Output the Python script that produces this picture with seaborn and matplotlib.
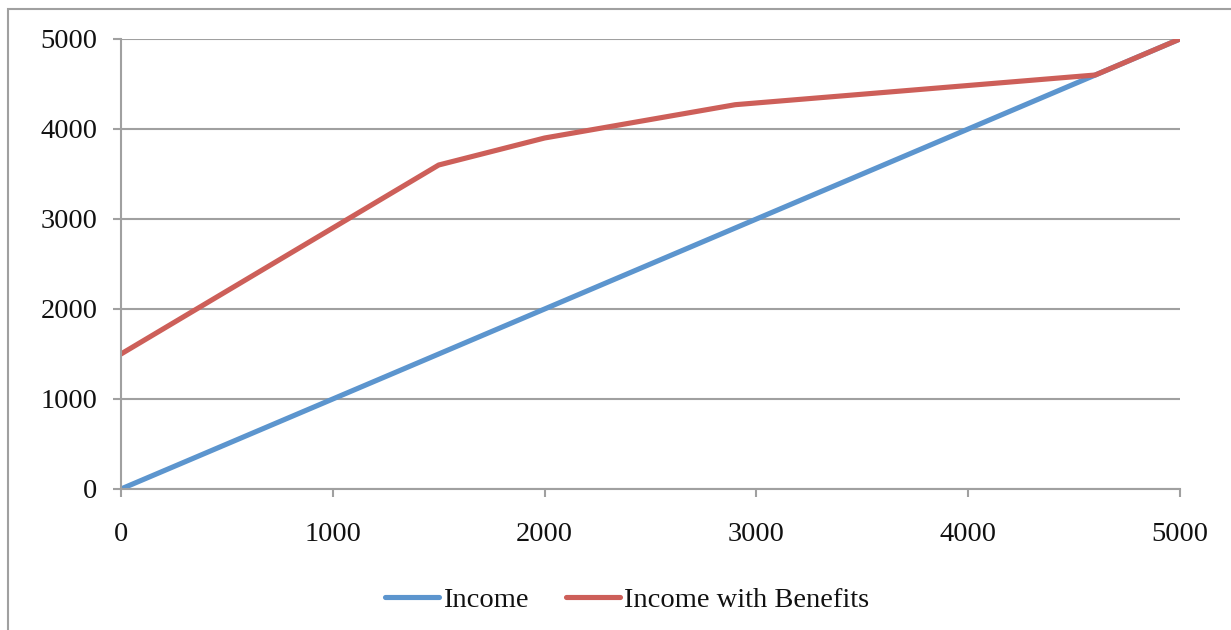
import matplotlib
matplotlib.use("Agg")
import matplotlib.pyplot as plt
from matplotlib.patches import Rectangle
import seaborn as sns
import pandas as pd

# Series data
income_x = [0, 5000]
income_y = [0, 5000]
benefits_x = [0, 1500, 2000, 2900, 4600, 5000]
benefits_y = [1500, 3600, 3900, 4270, 4600, 5000]
series_names = ["Income", "Income with Benefits"]
ticks = [0, 1000, 2000, 3000, 4000, 5000]

df = pd.concat([
    pd.DataFrame({"x": income_x, "y": income_y, "series": series_names[0]}),
    pd.DataFrame({"x": benefits_x, "y": benefits_y, "series": series_names[1]}),
], ignore_index=True)

sns.set_theme(style="white")
plt.rcParams["font.family"] = ["Liberation Serif", "DejaVu Serif"]

grey = "#A0A0A0"
fs = 20.5
fig = plt.figure(figsize=(12.31, 6.30), dpi=100)
ax = fig.add_axes([121 / 1231, 1 - 489 / 630, (1180 - 121) / 1231, (489 - 39) / 630])

sns.lineplot(data=df, x="x", y="y", hue="series", sort=False,
             palette=["#5C95CE", "#CD5F59"], linewidth=3.7, ax=ax,
             legend=True)

ax.set_xlim(0, 5000)
ax.set_ylim(0, 5000)
ax.set_xticks(ticks)
ax.set_yticks(ticks)
ax.set_xticklabels([str(t) for t in ticks])
ax.set_yticklabels([str(t) for t in ticks])
ax.set_xlabel("")
ax.set_ylabel("")

ax.grid(axis="y", color=grey, linewidth=1.5)
ax.grid(axis="x", visible=False)
ax.set_axisbelow(True)
for s in ["top", "right"]:
    ax.spines[s].set_visible(False)
for s in ["left", "bottom"]:
    ax.spines[s].set_color(grey)
    ax.spines[s].set_linewidth(1.5)

ax.tick_params(axis="y", direction="out", length=6, width=1.5, color=grey,
               labelsize=fs, pad=11, left=True, labelcolor="#111111")
ax.tick_params(axis="x", direction="out", length=5.5, width=1.5, color=grey,
               labelsize=fs, pad=18, bottom=True, labelcolor="#111111")

handles, labels = ax.get_legend_handles_labels()
ax.get_legend().remove()
leg = fig.legend(handles, labels, loc="center", ncol=2,
                 bbox_to_anchor=(627 / 1231, 1 - 600 / 630),
                 frameon=False, fontsize=fs, handlelength=1.9,
                 handletextpad=0.15, columnspacing=1.3, labelcolor="#111111")
for h in leg.get_lines():
    h.set_linewidth(3.7)
    h.set_solid_capstyle("round")

# Outer chart frame (runs past the right and bottom edges)
frame_top = 1 - 9 / 630
fig.patches.append(Rectangle((8 / 1231, -0.2), 1.2, frame_top + 0.2,
                             transform=fig.transFigure, fill=False,
                             edgecolor=grey, linewidth=1.5))

fig.savefig("out.png", dpi=100, facecolor="white")
